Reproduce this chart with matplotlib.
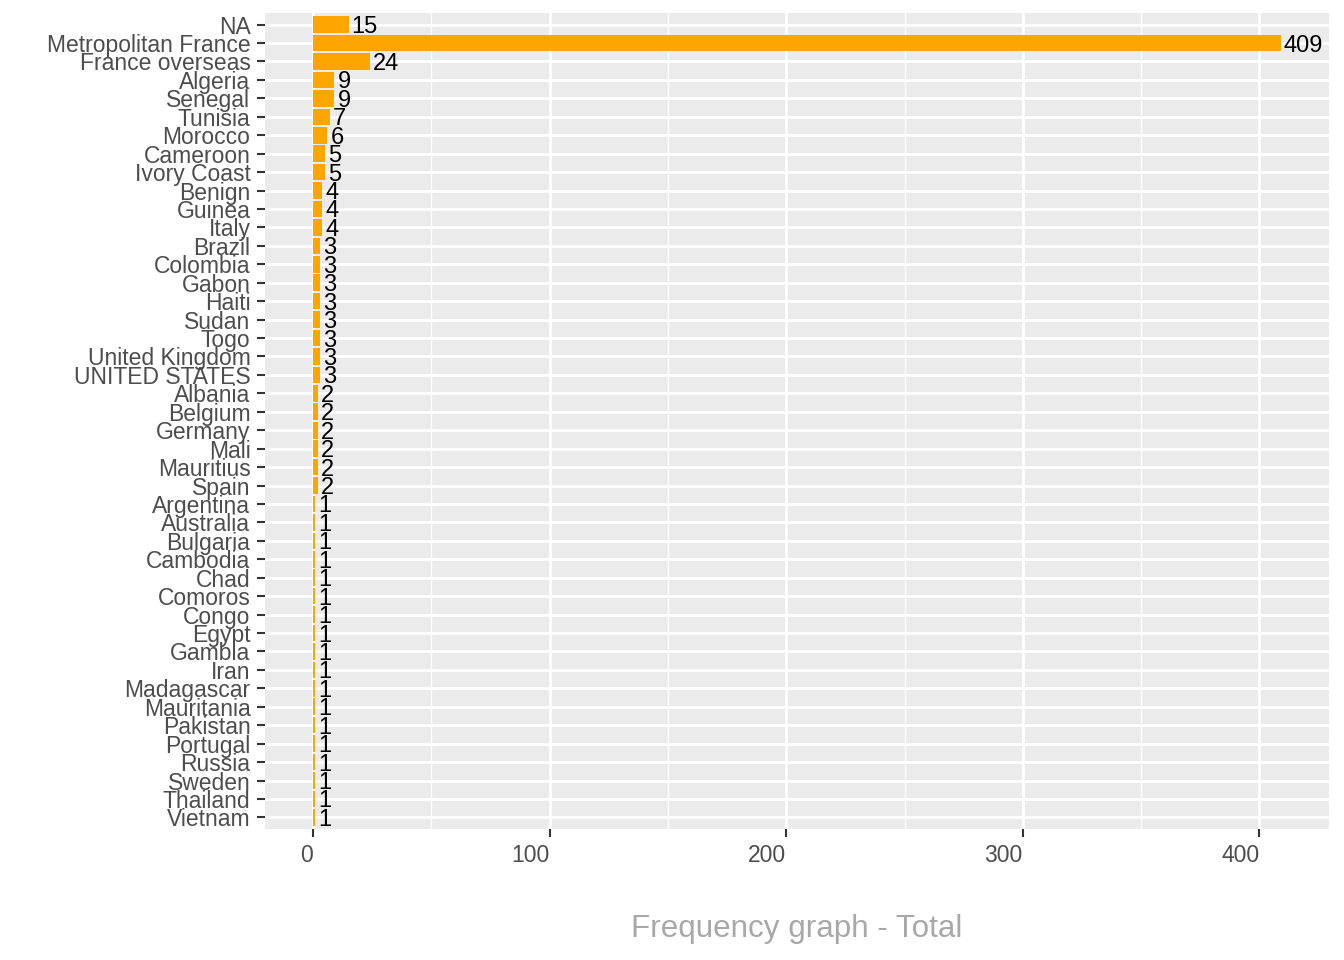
import numpy as np
import matplotlib
matplotlib.use("Agg")
import matplotlib.pyplot as plt
from matplotlib.ticker import MultipleLocator

plt.rcParams['font.family'] = ['Liberation Sans', 'DejaVu Sans']

countries = ["NA", "Metropolitan France", "France overseas", "Algeria", "Senegal",
             "Tunisia", "Morocco", "Cameroon", "Ivory Coast", "Benign", "Guinea",
             "Italy", "Brazil", "Colombia", "Gabon", "Haiti", "Sudan", "Togo",
             "United Kingdom", "UNITED STATES", "Albania", "Belgium", "Germany",
             "Mali", "Mauritius", "Spain", "Argentina", "Australia", "Bulgaria",
             "Cambodia", "Chad", "Comoros", "Congo", "Egypt", "Gambia", "Iran",
             "Madagascar", "Mauritania", "Pakistan", "Portugal", "Russia",
             "Sweden", "Thailand", "Vietnam"]
counts = [15, 409, 24, 9, 9, 7, 6, 5, 5, 4, 4, 4, 3, 3, 3, 3, 3, 3, 3, 3,
          2, 2, 2, 2, 2, 2, 1, 1, 1, 1, 1, 1, 1, 1, 1, 1, 1, 1, 1, 1, 1, 1, 1, 1]
xticks = [0, 100, 200, 300, 400]
title = "Frequency graph - Total"

fig = plt.figure(figsize=(13.44, 9.6), dpi=100)
ax = fig.add_axes([265 / 1344, 1 - 829 / 960, (1329 - 265) / 1344, (829 - 13) / 960])

n = len(countries)
ypos = np.arange(n)[::-1]

ax.set_facecolor("#EBEBEB")
ax.barh(ypos, counts, height=0.9, color="#FFA500", zorder=3)
for y, c in zip(ypos, counts):
    ax.text(c + 1.3, y, str(c), ha="left", va="center_baseline", fontsize=17,
            color="black", zorder=4)

ax.set_xlim(-20.3, 429.4)
ax.set_ylim(-0.63, n - 1 + 0.63)
ax.set_yticks(ypos)
ax.set_yticklabels(countries)
ax.set_xticks(xticks)
ax.xaxis.set_minor_locator(MultipleLocator(50))

ax.grid(which="major", color="white", linewidth=2.0, zorder=1)
ax.grid(which="minor", axis="x", color="white", linewidth=1.0, zorder=1)
for s in ax.spines.values():
    s.set_visible(False)
ax.tick_params(which="major", length=6, width=1.5, color="#333333",
               labelcolor="#4D4D4D", labelsize=16.5)
ax.tick_params(which="minor", length=0)
ax.tick_params(axis="y", pad=4.5)
ax.tick_params(axis="x", pad=5)
for lab in ax.get_yticklabels():
    lab.set_verticalalignment("center_baseline")
for lab in ax.get_xticklabels():
    lab.set_horizontalalignment("right")

fig.text(797 / 1344, 1 - 937 / 960, title, ha="center", va="baseline",
         fontsize=22.6, color="#A8A8A8")

fig.savefig("out.png", dpi=100)
